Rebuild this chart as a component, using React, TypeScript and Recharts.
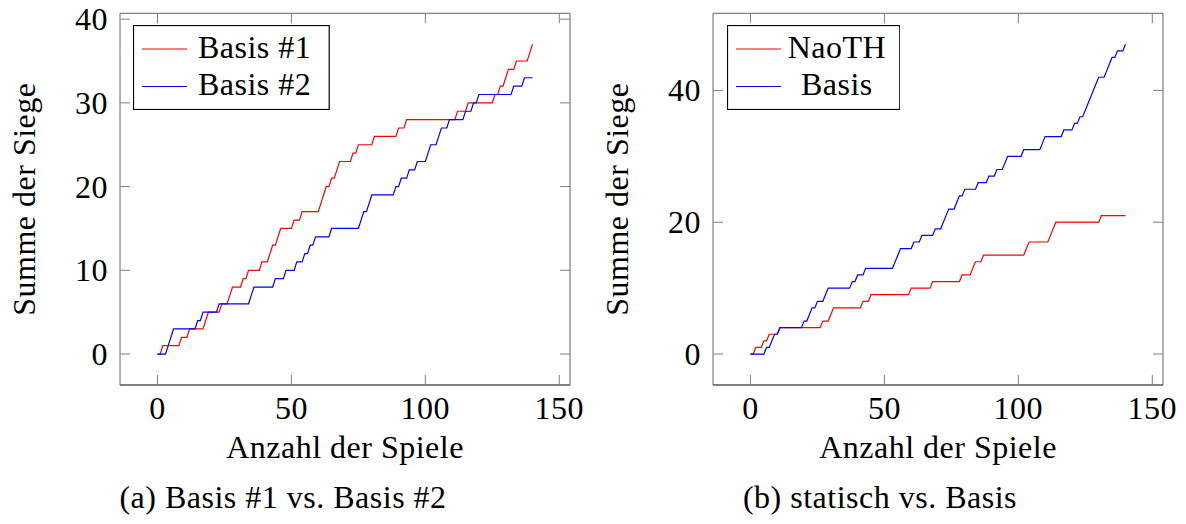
import { LineChart, Line, XAxis, YAxis, Legend } from 'recharts'

// cumulative wins per game
const games = Array.from({ length: 141 }, (_, i) => i)

const basis1 = [
  0, 0, 1, 1, 1, 1, 1, 1, 1, 2,
  2, 2, 3, 3, 3, 3, 3, 3, 4, 5,
  5, 5, 5, 5, 6, 6, 6, 7, 8, 8,
  8, 8, 9, 9, 10, 10, 10, 10, 10, 11,
  11, 11, 12, 13, 13, 14, 15, 15, 15, 15,
  15, 16, 16, 16, 17, 17, 17, 17, 17, 17,
  17, 18, 19, 20, 20, 21, 21, 22, 23, 23,
  23, 23, 23, 24, 24, 25, 25, 25, 25, 25,
  25, 26, 26, 26, 26, 26, 26, 26, 26, 26,
  27, 27, 27, 28, 28, 28, 28, 28, 28, 28,
  28, 28, 28, 28, 28, 28, 28, 28, 28, 28,
  28, 28, 29, 29, 29, 29, 30, 30, 30, 30,
  30, 30, 30, 30, 30, 30, 31, 31, 32, 32,
  33, 34, 34, 34, 35, 35, 35, 35, 35, 36,
  37,
]

const basis2 = [
  0, 0, 0, 0, 1, 2, 3, 3, 3, 3,
  3, 3, 3, 3, 3, 4, 4, 5, 5, 5,
  5, 5, 5, 6, 6, 6, 6, 6, 6, 6,
  6, 6, 6, 6, 6, 7, 8, 8, 8, 8,
  8, 8, 8, 8, 9, 9, 9, 9, 10, 10,
  10, 10, 11, 11, 11, 12, 12, 13, 13, 14,
  14, 14, 14, 14, 14, 15, 15, 15, 15, 15,
  15, 15, 15, 15, 15, 15, 16, 17, 17, 18,
  19, 19, 19, 19, 19, 19, 19, 19, 19, 20,
  20, 21, 21, 21, 22, 22, 22, 23, 23, 23,
  23, 24, 25, 25, 25, 26, 27, 27, 27, 28,
  28, 28, 28, 28, 28, 29, 29, 29, 30, 30,
  31, 31, 31, 31, 31, 31, 31, 31, 31, 31,
  31, 31, 31, 32, 32, 32, 32, 33, 33, 33,
  33,
]

const naoth = [
  0, 0, 1, 1, 1, 2, 2, 3, 3, 3,
  3, 4, 4, 4, 4, 4, 4, 4, 4, 4,
  4, 4, 4, 4, 4, 4, 4, 5, 5, 5,
  6, 7, 7, 7, 7, 7, 7, 7, 7, 7,
  7, 7, 8, 8, 8, 9, 9, 9, 9, 9,
  9, 9, 9, 9, 9, 9, 9, 9, 9, 9,
  10, 10, 10, 10, 10, 10, 10, 10, 11, 11,
  11, 11, 11, 11, 11, 11, 11, 11, 11, 12,
  12, 12, 12, 13, 14, 14, 14, 15, 15, 15,
  15, 15, 15, 15, 15, 15, 15, 15, 15, 15,
  15, 15, 15, 16, 17, 17, 17, 17, 17, 17,
  17, 17, 18, 19, 20, 20, 20, 20, 20, 20,
  20, 20, 20, 20, 20, 20, 20, 20, 20, 20,
  20, 21, 21, 21, 21, 21, 21, 21, 21, 21,
  21,
]

const basis = [
  0, 0, 0, 0, 0, 0, 1, 1, 2, 3,
  3, 4, 4, 4, 4, 4, 4, 4, 4, 4,
  5, 5, 6, 7, 7, 8, 8, 8, 9, 10,
  10, 10, 10, 10, 10, 10, 10, 10, 11, 11,
  12, 12, 12, 13, 13, 13, 13, 13, 13, 13,
  13, 13, 13, 13, 14, 15, 16, 16, 16, 16,
  16, 17, 17, 17, 18, 18, 18, 18, 18, 19,
  19, 19, 20, 21, 22, 22, 22, 23, 24, 24,
  25, 25, 25, 25, 25, 26, 26, 26, 26, 27,
  27, 27, 28, 28, 28, 29, 30, 30, 30, 30,
  30, 30, 31, 31, 31, 31, 31, 31, 31, 32,
  33, 33, 33, 33, 33, 33, 33, 34, 34, 34,
  34, 35, 35, 36, 36, 37, 38, 39, 40, 41,
  42, 42, 42, 43, 44, 45, 45, 46, 46, 46,
  47,
]

const xTicks = [0, 50, 100, 150]
const leftYTicks = [0, 10, 20, 30, 40]
const rightYTicks = [0, 20, 40]

const FONT = '"Liberation Serif", "DejaVu Serif", serif'
const FS = 32
const LS = 0.5
const RED = '#ff0000'
const BLUE = '#0000ff'
const TICK = '#808080'
const TICK_LEN = 10
const GAP = 12

type Series = { key: string; name: string; color: string }

// pgfplots style: ticks point into the plot on all four sides
const BottomTick = ({ x, y, payload }: any) => (
  <g>
    <line x1={x} x2={x} y1={y - GAP} y2={y - GAP - TICK_LEN} stroke={TICK} />
    <text x={x} y={y + 22} textAnchor="middle" fontFamily={FONT} fontSize={FS} letterSpacing={LS} fill="#000">
      {payload.value}
    </text>
  </g>
)

const LeftTick = ({ x, y, payload }: any) => (
  <g>
    <line x1={x + GAP} x2={x + GAP + TICK_LEN} y1={y} y2={y} stroke={TICK} />
    <text x={x} y={y + 11} textAnchor="end" fontFamily={FONT} fontSize={FS} letterSpacing={LS} fill="#000">
      {payload.value}
    </text>
  </g>
)

const TopTick = ({ x, y }: any) => <line x1={x} x2={x} y1={y} y2={y + TICK_LEN} stroke={TICK} />

const RightTick = ({ x, y }: any) => <line x1={x - TICK_LEN} x2={x} y1={y} y2={y} stroke={TICK} />

function LegendBox({ items, width }: { items: Series[]; width: number }) {
  const cx = (61 + width - 14.5) / 2
  return (
    <svg width={width} height={85} style={{ display: 'block' }}>
      <rect x={0.5} y={0.5} width={width - 1} height={84} fill="#fff" stroke="#000" strokeWidth={1.2} />
      {items.map((it, i) => (
        <g key={it.key}>
          <line x1={9} x2={54} y1={24 + i * 37.5} y2={24 + i * 37.5} stroke={it.color} strokeWidth={1.2} />
          <text x={cx} y={33 + i * 36.5} textAnchor="middle" fontFamily={FONT} fontSize={FS} letterSpacing={LS} fill="#000">
            {it.name}
          </text>
        </g>
      ))}
    </svg>
  )
}

const yTitle = ({ viewBox }: any) => {
  const cx = viewBox.x + 35
  const cy = viewBox.y + viewBox.height / 2
  return (
    <text x={cx} y={cy} transform={`rotate(-90 ${cx} ${cy})`} textAnchor="middle"
      fontFamily={FONT} fontSize={FS} letterSpacing={LS} fill="#000">
      Summe der Siege
    </text>
  )
}

const xTitle = ({ viewBox }: any) => (
  <text x={viewBox.x + viewBox.width / 2} y={viewBox.y + 73} textAnchor="middle"
    fontFamily={FONT} fontSize={FS} letterSpacing={LS} fill="#000">
    Anzahl der Spiele
  </text>
)

type PanelProps = {
  left: number
  data: Record<string, number>[]
  series: Series[]
  yDomain: [number, number]
  yTicks: number[]
  legendWidth: number
}

function Panel({ left, data, series, yDomain, yTicks, legendWidth }: PanelProps) {
  return (
    <div style={{ position: 'absolute', left, top: 0 }}>
      <LineChart width={600} height={470} data={data} margin={{ top: 12.3, right: 29, bottom: 0, left: 0 }}>
        <XAxis
          dataKey="game" type="number" domain={[-14, 154]} ticks={xTicks} allowDataOverflow
          tick={BottomTick} tickSize={0} tickMargin={GAP} tickLine={false} height={85}
          axisLine={{ stroke: '#000', strokeWidth: 1.2 }}
          label={{ content: xTitle }}
        />
        <XAxis
          xAxisId="top" orientation="top" dataKey="game" type="number" domain={[-14, 154]} ticks={xTicks} allowDataOverflow
          tick={TopTick} tickSize={0} tickMargin={0} tickLine={false} height={1}
          axisLine={{ stroke: '#666' }}
        />
        <YAxis
          type="number" domain={yDomain} ticks={yTicks} width={120} allowDataOverflow
          tick={LeftTick} tickSize={0} tickMargin={GAP} tickLine={false}
          axisLine={{ stroke: '#666' }}
          label={{ content: yTitle }}
        />
        <YAxis
          yAxisId="right" orientation="right" type="number" domain={yDomain} ticks={yTicks} width={1} allowDataOverflow
          tick={RightTick} tickSize={0} tickMargin={0} tickLine={false}
          axisLine={{ stroke: '#666' }}
        />
        <Legend
          layout="vertical" align="center" verticalAlign="middle"
          wrapperStyle={{ left: 133.3, top: 25, width: legendWidth, height: 85 }}
          content={() => <LegendBox items={series} width={legendWidth} />}
        />
        {series.map(s => (
          <Line
            key={s.key} type="linear" dataKey={s.key} name={s.name}
            stroke={s.color} strokeWidth={1.2} dot={false} isAnimationActive={false}
          />
        ))}
      </LineChart>
    </div>
  )
}

export default function App() {
  const leftData = games.map((g, i) => ({ game: g, basis1: basis1[i], basis2: basis2[i] }))
  const rightData = games.map((g, i) => ({ game: g, naoth: naoth[i], basis: basis[i] }))

  return (
    <div style={{ position: 'absolute', left: 0, top: 0, width: 1186, height: 524, background: '#fff', overflow: 'hidden' }}>
      <Panel
        left={0} data={leftData} yDomain={[-3.7, 40.7]} yTicks={leftYTicks} legendWidth={196.7}
        series={[
          { key: 'basis1', name: 'Basis #1', color: RED },
          { key: 'basis2', name: 'Basis #2', color: BLUE },
        ]}
      />
      <Panel
        left={593.3} data={rightData} yDomain={[-4.7, 51.7]} yTicks={rightYTicks} legendWidth={173.3}
        series={[
          { key: 'naoth', name: 'NaoTH', color: RED },
          { key: 'basis', name: 'Basis', color: BLUE },
        ]}
      />
      <svg width={1186} height={54} style={{ position: 'absolute', left: 0, top: 470 }}>
        <text x={283} y={38} textAnchor="middle" fontFamily={FONT} fontSize={FS} letterSpacing={LS} fill="#000">
          (a) Basis #1 vs. Basis #2
        </text>
        <text x={880} y={38} textAnchor="middle" fontFamily={FONT} fontSize={FS} letterSpacing={LS} fill="#000">
          (b) statisch vs. Basis
        </text>
      </svg>
    </div>
  )
}
